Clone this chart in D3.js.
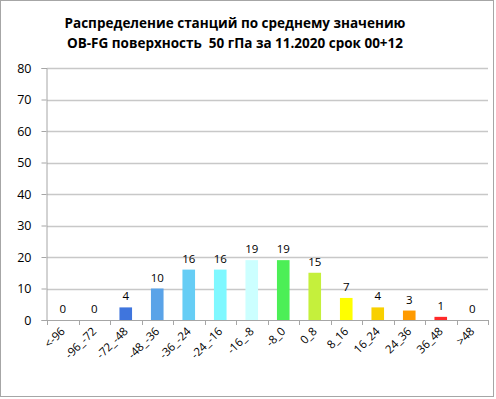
<!DOCTYPE html>
<html>
<head>
<meta charset="utf-8">
<script src="https://cdn.jsdelivr.net/npm/d3@7"></script>
<style>
  body { margin: 0; background: #fff; }
  text { font-family: "Open Sans", "Liberation Sans", sans-serif; }
</style>
</head>
<body>
<div id="chart"></div>
<script>
const categories = ['<-96', '-96_-72', '-72_-48', '-48_-36', '-36_-24', '-24_-16', '-16_-8',
  '-8_0', '0_8', '8_16', '16_24', '24_36', '36_48', '>48'];
const counts = [0, 0, 4, 10, 16, 16, 19, 19, 15, 7, 4, 3, 1, 0];
const barColors = ['#3f75dd', '#3f75dd', '#3f75dd', '#5aa3e8', '#66cdf5', '#7ff8ff', '#ccffff',
  '#4cef56', '#c5f03c', '#ffff00', '#f8d000', '#ff9a00', '#ff2a2a', '#ff2a2a'];
const yTicks = [0, 10, 20, 30, 40, 50, 60, 70, 80];
const titleLines = ['Распределение станций по среднему значению',
  'OB-FG поверхность  50 гПа за 11.2020 срок 00+12'];

const width = 496, height = 399;
const margin = { top: 68, right: 8, bottom: 79, left: 47 };

const svg = d3.select('#chart')
  .append('svg')
  .attr('width', width)
  .attr('height', height);

// outer frame
svg.append('rect')
  .attr('x', 0.5).attr('y', 0.5)
  .attr('width', width - 3).attr('height', height - 3)
  .attr('fill', '#fff')
  .attr('stroke', '#a6a6a6');

// title
svg.append('g')
  .selectAll('text')
  .data(titleLines)
  .enter()
  .append('text')
  .attr('x', 235)
  .attr('y', (d, i) => 28 + i * 20)
  .attr('text-anchor', 'middle')
  .style('white-space', 'pre')
  .style('font-size', '13.5px')
  .style('font-weight', 'bold')
  .text((d) => d);

const x = d3.scaleBand()
  .domain(categories)
  .range([margin.left, width - margin.right])
  .paddingInner(0.6)
  .paddingOuter(0.3);

const y = d3.scaleLinear()
  .domain([0, 80])
  .range([height - margin.bottom, margin.top]);

// gridlines
svg.append('g')
  .selectAll('line')
  .data(yTicks.filter((d) => d > 0))
  .enter()
  .append('line')
  .attr('x1', margin.left)
  .attr('x2', width - margin.right)
  .attr('y1', (d) => Math.round(y(d)) + 0.5)
  .attr('y2', (d) => Math.round(y(d)) + 0.5)
  .attr('stroke', '#c8c8c8')
  .attr('stroke-width', 1.5);

// y axis
const yAxis = svg.append('g')
  .attr('transform', `translate(${margin.left - 0.5},0)`)
  .call(d3.axisLeft(y).tickValues(yTicks).tickSize(5).tickPadding(10));
yAxis.select('.domain').attr('stroke', '#a6a6a6');
yAxis.selectAll('.tick line').attr('stroke', '#a6a6a6');
yAxis.selectAll('.tick text')
  .style('font-size', '12.5px')
  .attr('fill', '#000')
  .attr('font-family', '"Open Sans", sans-serif');

// x axis with ticks between categories
const n = categories.length;
const bounds = d3.range(n + 1).map((i) => margin.left + i * ((width - margin.right - margin.left) / n));
const xg = svg.append('g');
xg.append('line')
  .attr('x1', margin.left)
  .attr('x2', width - margin.right)
  .attr('y1', y(0) + 0.5)
  .attr('y2', y(0) + 0.5)
  .attr('stroke', '#a6a6a6');
xg.selectAll('.tk')
  .data(bounds)
  .enter()
  .append('line')
  .attr('x1', (d) => Math.round(d) + 0.5)
  .attr('x2', (d) => Math.round(d) + 0.5)
  .attr('y1', y(0))
  .attr('y2', y(0) + 5)
  .attr('stroke', '#a6a6a6');

const cx = (d) => x(d) + x.bandwidth() / 2;

xg.selectAll('.lbl')
  .data(categories)
  .enter()
  .append('text')
  .attr('transform', (d) => `translate(${cx(d) + 3},${y(0) + 12}) rotate(-45)`)
  .attr('text-anchor', 'end')
  .style('font-size', '11.5px')
  .text((d) => d);

// bars
svg.append('g')
  .selectAll('rect')
  .data(categories)
  .enter()
  .append('rect')
  .attr('x', (d) => x(d))
  .attr('y', (d, i) => y(counts[i]))
  .attr('width', x.bandwidth())
  .attr('height', (d, i) => y(0) - y(counts[i]))
  .attr('fill', (d, i) => barColors[i]);

// value labels
svg.append('g')
  .selectAll('text')
  .data(categories)
  .enter()
  .append('text')
  .attr('x', (d) => cx(d))
  .attr('y', (d, i) => y(counts[i]) - 7)
  .attr('text-anchor', 'middle')
  .style('font-size', '11.5px')
  .text((d, i) => counts[i]);
</script>
</body>
</html>
